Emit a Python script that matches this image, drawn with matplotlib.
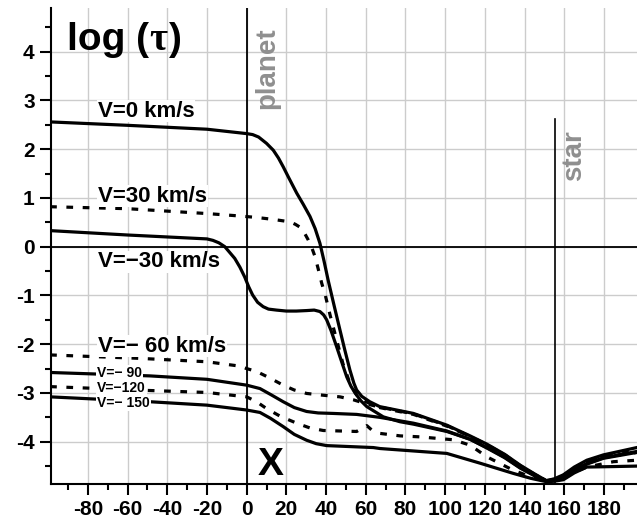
import numpy as np
import matplotlib.pyplot as plt
from matplotlib.ticker import MultipleLocator

plt.rcParams['font.family'] = ['Liberation Sans', 'DejaVu Sans']
plt.rcParams['font.weight'] = 'bold'
plt.rcParams['axes.unicode_minus'] = False

# curves: (x, log tau)
x_v0 = [-99, -60, -20, 0, 3, 6, 10, 13.4, 16, 18.4, 21, 25.2, 28.5, 31.9, 34.5, 36.9, 39, 41,
        44, 47, 49.5, 52, 54, 55.4, 58, 62, 67, 84, 100.8, 112.5, 121, 130, 137.7, 145,
        151, 155, 159.5, 165, 171.3, 179.7, 196.5]
y_v0 = [2.56, 2.49, 2.41, 2.32, 2.30, 2.25, 2.12, 1.98, 1.82, 1.64, 1.43, 1.10, 0.87, 0.62, 0.37, 0.07, -0.30, -0.68,
        -1.20, -1.71, -2.13, -2.53, -2.80, -2.94, -3.07, -3.18, -3.28, -3.42, -3.66, -3.88, -4.05, -4.26, -4.48, -4.66,
        -4.80, -4.76, -4.68, -4.52, -4.38, -4.27, -4.12]

x_v30 = [-99, -60, -20, -3.4, 5, 13.4, 21.8, 24.5, 26.9, 29, 31, 32.8, 34.4, 36, 37.8, 39.4,
         42, 45.3, 48.5, 52, 55.4, 60, 67, 84, 100.8, 112.5, 121, 130, 137.7, 145,
         151, 155, 159.5, 165, 171.3, 179.7, 196.5]
y_v30 = [0.82, 0.78, 0.68, 0.63, 0.60, 0.56, 0.51, 0.46, 0.40, 0.29, 0.14, -0.02, -0.20, -0.45, -0.75, -0.96,
         -1.40, -1.91, -2.40, -2.80, -3.04, -3.18, -3.30, -3.44, -3.68, -3.89, -4.07, -4.27, -4.49, -4.67,
         -4.80, -4.77, -4.70, -4.55, -4.42, -4.31, -4.22]

x_vm30 = [-99, -60, -20, -17, -14, -11, -8.5, -6, -3.4, -1, 1, 3, 5.5, 8.3, 11, 15, 20, 25, 30.2,
          34, 36.9, 38.8, 40.3, 42.5, 45.3, 48, 50.4, 52.5, 54.6, 57.5, 60.5, 68.8, 77.2, 84,
          100.8, 112.5, 121, 130, 137.7, 145, 151, 155, 159.5, 165, 171.3, 179.7, 196.5]
y_vm30 = [0.33, 0.24, 0.16, 0.13, 0.08, 0.0, -0.12, -0.24, -0.42, -0.62, -0.82, -0.99, -1.14, -1.23, -1.28, -1.30, -1.32, -1.32, -1.31,
          -1.30, -1.33, -1.40, -1.50, -1.72, -2.05, -2.38, -2.67, -2.86, -3.00, -3.16, -3.28, -3.49, -3.59, -3.64,
          -3.79, -3.95, -4.12, -4.32, -4.53, -4.69, -4.81, -4.78, -4.72, -4.58, -4.45, -4.33, -4.20]

x_vm60 = [-99, -54, -20, -3.4, 0, 5, 11, 18.4, 24, 30.2, 36.9, 47, 53.7, 60, 67, 84,
          100.8, 112.5, 121, 130, 137.7, 145, 151, 155, 159.5, 165, 171.3, 179.7, 196.5]
y_vm60 = [-2.22, -2.29, -2.36, -2.45, -2.50, -2.56, -2.68, -2.84, -2.94, -3.01, -3.04, -3.08, -3.14, -3.22, -3.29, -3.43,
          -3.67, -3.89, -4.06, -4.27, -4.49, -4.67, -4.80, -4.77, -4.69, -4.54, -4.40, -4.29, -4.16]

x_vm90 = [-99, -77, -48.7, -20, 0, 6.7, 12, 18.4, 24, 30.2, 36, 43.6, 55.4, 67, 84, 100.8,
          112.5, 121, 130, 137.7, 145, 151, 155, 159.5, 165, 171.3, 179.7, 196.5]
y_vm90 = [-2.58, -2.61, -2.65, -2.72, -2.84, -2.91, -3.03, -3.18, -3.30, -3.38, -3.41, -3.42, -3.44, -3.50, -3.62, -3.78,
          -3.95, -4.13, -4.33, -4.54, -4.70, -4.81, -4.78, -4.72, -4.59, -4.46, -4.34, -4.22]

x_vm120 = [-99, -48.7, -20, 0, 5, 10, 17, 25.2, 32, 38.6, 55.4, 60.5, 63, 67.2, 77.2, 87, 104,
           112.5, 121, 134, 143, 151, 155, 159.5, 165, 171.3, 184.7, 196.5]
y_vm120 = [-2.87, -2.95, -2.99, -3.08, -3.18, -3.32, -3.48, -3.62, -3.72, -3.77, -3.79, -3.67, -3.76, -3.83, -3.88, -3.90, -3.96,
           -4.07, -4.31, -4.58, -4.72, -4.82, -4.80, -4.76, -4.63, -4.52, -4.41, -4.38]

x_vm150 = [-99, -48.7, -20, 0, 6.7, 12, 18.4, 24, 30.2, 35, 40.3, 63.8, 67.2, 100.8, 117.5,
           134.3, 143, 151, 155, 159.5, 165, 171.3, 184.7, 196.5]
y_vm150 = [-3.08, -3.18, -3.25, -3.35, -3.40, -3.52, -3.69, -3.85, -3.97, -4.04, -4.08, -4.12, -4.14, -4.24, -4.44,
           -4.65, -4.75, -4.82, -4.81, -4.78, -4.64, -4.52, -4.51, -4.50]

# label text, position (left edge x, centre y) and font size
labels = ['V=0 km/s', 'V=30 km/s', 'V=\u221230 km/s', 'V=\u2212 60 km/s',
          'V=\u2212 90', 'V=\u2212120', 'V=\u2212 150']
label_x = [-74.9, -74.9, -74.9, -74.9, -75.3, -75.3, -75.3]
label_y = [2.78, 1.04, -0.31, -2.04, -2.59, -2.90, -3.21]
label_size = [16, 16, 16, 16, 10, 10, 10]

planet_x = 0
star_x = 155.3
star_top = 2.62

fig = plt.figure(figsize=(6.37, 5.2), dpi=100)
ax = fig.add_axes([0.0796, 0.069, 0.9204, 0.915])

lw = 2.3
dots = (0, (2.1, 3.0))
ax.plot(x_v0, y_v0, color='black', lw=lw, zorder=3)
ax.plot(x_v30, y_v30, color='black', lw=lw, ls=dots, zorder=3)
ax.plot(x_vm30, y_vm30, color='black', lw=lw, zorder=3)
ax.plot(x_vm60, y_vm60, color='black', lw=lw, ls=dots, zorder=3)
ax.plot(x_vm90, y_vm90, color='black', lw=lw, zorder=3)
ax.plot(x_vm120, y_vm120, color='black', lw=lw, ls=dots, zorder=3)
ax.plot(x_vm150, y_vm150, color='black', lw=lw, zorder=3)

ax.axhline(0, color='black', lw=1.3, zorder=2)
ax.axvline(planet_x, color='black', lw=1.3, zorder=2)
ax.plot([star_x, star_x], [star_top, -4.87], color='black', lw=1.2, zorder=2)

for txt, tx, ty, fs in zip(labels, label_x, label_y, label_size):
    ax.text(tx, ty, txt, fontsize=fs, fontweight='bold', ha='left', va='center',
            zorder=4, bbox=dict(facecolor='white', edgecolor='none', pad=0.5))

ax.text(-90.5, 4.03, 'log (', fontsize=28, fontweight='bold', va='baseline', zorder=4)
ax.text(-49.0, 4.03, '\u03c4', fontsize=28, fontweight='bold', va='baseline', zorder=4,
        family=['Liberation Serif', 'DejaVu Serif'])
ax.text(-39.0, 4.03, ')', fontsize=28, fontweight='bold', va='baseline', zorder=4)
ax.text(5.7, -4.69, 'X', fontsize=28, fontweight='bold', va='baseline', zorder=4)
ax.text(10.2, 4.49, 'planet', fontsize=20, fontweight='bold', color='#8f8f8f',
        rotation=90, ha='center', va='top', zorder=4)
ax.text(164.8, 2.39, 'star', fontsize=20, fontweight='bold', color='#8f8f8f',
        rotation=90, ha='center', va='top', zorder=4)

ax.set_xlim(-98.7, 196.6)
ax.set_ylim(-4.87, 4.89)
ax.xaxis.set_major_locator(MultipleLocator(20))
ax.xaxis.set_minor_locator(MultipleLocator(10))
ax.yaxis.set_major_locator(MultipleLocator(1))
ax.yaxis.set_minor_locator(MultipleLocator(0.5))
ax.grid(True, which='major', color='#cccccc', lw=1.0, zorder=0)
ax.set_axisbelow(True)

ax.spines['top'].set_visible(False)
ax.spines['right'].set_visible(False)
ax.spines['left'].set_linewidth(1.5)
ax.spines['bottom'].set_linewidth(1.5)
ax.tick_params(which='major', direction='out', length=8, width=1.5, labelsize=15)
ax.tick_params(which='minor', direction='out', length=4, width=1.5)
for lab in ax.get_xticklabels() + ax.get_yticklabels():
    lab.set_fontweight('bold')

plt.savefig('out.png', dpi=100)
